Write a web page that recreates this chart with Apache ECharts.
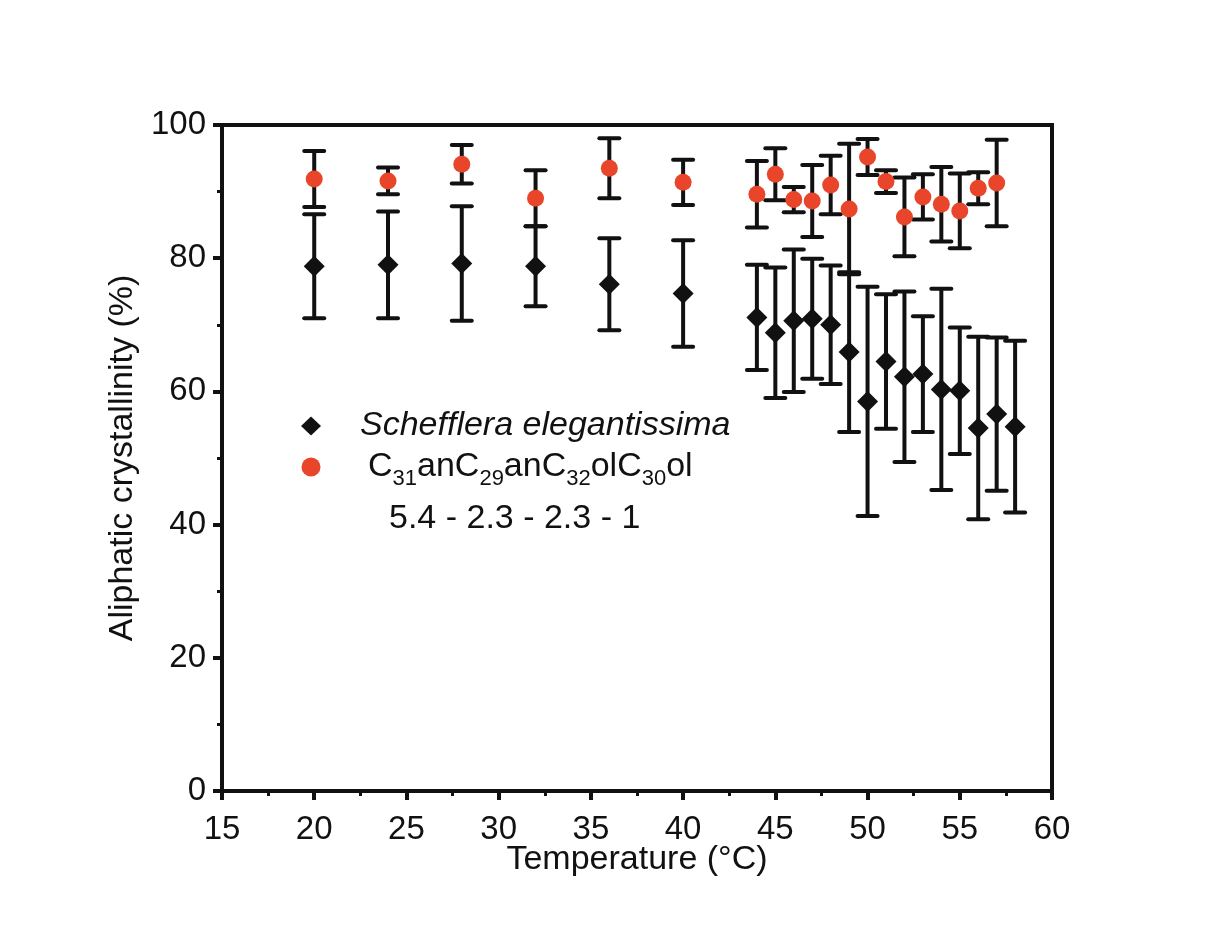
<!DOCTYPE html>
<html><head><meta charset="utf-8">
<script src="https://cdn.jsdelivr.net/npm/echarts@6/dist/echarts.min.js"></script>
<style>html,body{margin:0;padding:0;background:#fff}#c{width:1209px;height:938px}</style>
</head><body><div id="c"></div>
<script>
// ---- data ----
const blackTemps = [20,24,28,32,36,40,44,45,46,47,48,49,50,51,52,53,54,55,56,57,58];
const blackMean  = [78.8,79.0,79.2,78.8,76.1,74.7,71.1,68.8,70.6,70.9,70.0,65.9,58.5,64.5,62.2,62.6,60.3,60.1,54.5,56.6,54.7];
const blackErr   = [7.8,8.0,8.6,6.0,6.9,8.0,7.9,9.8,10.7,9.0,8.9,12.0,17.2,10.1,12.8,8.7,15.1,9.5,13.7,11.5,12.9];
const redTemps = [20,24,28,32,36,40,44,45,46,47,48,49,50,51,52,53,54,55,56,57];
const redMean  = [91.9,91.6,94.1,89.0,93.5,91.4,89.6,92.6,88.8,88.6,91.0,87.4,95.2,91.5,86.2,89.2,88.1,87.1,90.5,91.3];
const redErr   = [4.2,2.0,2.9,4.2,4.5,3.4,5.0,3.9,1.9,5.4,4.4,9.8,2.7,1.7,5.9,3.4,5.6,5.6,2.4,6.5];
const xTicks = [15,20,25,30,35,40,45,50,55,60];
const yTicks = [0,20,40,60,80,100];
const nameBlack = 'Schefflera elegantissima';
const nameRed = 'C31anC29anC32olC30ol';
const ratioLabel = '5.4 - 2.3 - 2.3 - 1';

const FONT = 'Liberation Sans, Arial, sans-serif';
const INK = '#111111';
const RED = '#e8452b';

const pts = (xs, ys) => xs.map((x, i) => [x, ys[i]]);
const errs = (xs, ys, es) => xs.map((x, i) => [x, ys[i] - es[i], ys[i] + es[i]]);

function errRender(params, api) {
  const x = api.value(0), lo = api.value(1), hi = api.value(2);
  const t = api.coord([x, hi]), b = api.coord([x, lo]);
  const hw = 10;
  const st = { stroke: INK, lineWidth: 4, lineCap: 'round' };
  return { type: 'group', children: [
    { type: 'line', shape: { x1: t[0], y1: t[1], x2: b[0], y2: b[1] }, style: { stroke: INK, lineWidth: 4 } },
    { type: 'line', shape: { x1: t[0] - hw, y1: t[1], x2: t[0] + hw, y2: t[1] }, style: st },
    { type: 'line', shape: { x1: b[0] - hw, y1: b[1], x2: b[0] + hw, y2: b[1] }, style: st }
  ]};
}

const chart = echarts.init(document.getElementById('c'), null, { renderer: 'canvas' });
const option = {
  backgroundColor: '#ffffff',
  animation: false,
  textStyle: { fontFamily: FONT },
  grid: { left: 222, right: 157, top: 125, bottom: 147, show: true, borderColor: INK, borderWidth: 4, backgroundColor: 'transparent' },
  xAxis: {
    type: 'value', min: xTicks[0], max: xTicks[xTicks.length - 1], interval: 5,
    name: 'Temperature (°C)', nameLocation: 'middle', nameGap: 52, nameMoveOverlap: false,
    nameTextStyle: { fontSize: 34, color: INK, fontFamily: FONT },
    axisLine: { show: true, lineStyle: { color: INK, width: 4 } },
    axisTick: { show: true, inside: false, length: 9, lineStyle: { color: INK, width: 4 } },
    minorTick: { show: true, splitNumber: 2, length: 5, lineStyle: { color: INK, width: 3 } },
    axisLabel: { fontSize: 33, color: INK, margin: 22, fontFamily: FONT },
    splitLine: { show: false }
  },
  yAxis: {
    type: 'value', min: yTicks[0], max: yTicks[yTicks.length - 1], interval: 20,
    name: 'Aliphatic crystallinity (%)', nameLocation: 'middle', nameGap: 82, nameMoveOverlap: false,
    nameTextStyle: { fontSize: 34, color: INK, fontFamily: FONT },
    axisLine: { show: true, lineStyle: { color: INK, width: 4 } },
    axisTick: { show: true, inside: false, length: 9, lineStyle: { color: INK, width: 4 } },
    minorTick: { show: true, splitNumber: 2, length: 5, lineStyle: { color: INK, width: 3 } },
    axisLabel: { fontSize: 33, color: INK, margin: 16, fontFamily: FONT },
    splitLine: { show: false }
  },
  legend: {
    orient: 'vertical', left: 296, top: 404, itemGap: 1,
    itemWidth: 20, itemHeight: 19,
    data: [{ name: nameBlack, icon: 'diamond', itemStyle: { color: INK, opacity: 1 } },
           { name: nameRed, icon: 'circle', itemStyle: { color: RED, opacity: 1 } }],
    formatter: function (n) {
      if (n === nameBlack) return '{i|' + n + '}';
      return '{n0|C}{s|31}{n|anC}{s|29}{n|anC}{s|32}{n|olC}{s|30}{n|ol}';
    },
    textStyle: {
      color: INK, fontFamily: FONT,
      rich: {
        i: { fontSize: 34, fontStyle: 'italic', lineHeight: 40, padding: [0, 0, 0, 34], color: INK, fontFamily: FONT },
        n0: { fontSize: 34, lineHeight: 40, padding: [0, 0, 0, 42], color: INK, fontFamily: FONT },
        n: { fontSize: 34, lineHeight: 40, color: INK, fontFamily: FONT },
        s: { fontSize: 22, lineHeight: 22, padding: [24, 0, 0, 0], color: INK, fontFamily: FONT }
      }
    }
  },
  graphic: [{
    type: 'text', left: 389, top: 502,
    style: { text: ratioLabel, font: '34px ' + FONT, fill: INK }
  }],
  series: [
    { type: 'custom', name: 'errBlack', renderItem: errRender, data: errs(blackTemps, blackMean, blackErr), z: 2, silent: true },
    { type: 'scatter', name: nameBlack, data: pts(blackTemps, blackMean), symbol: 'diamond', symbolSize: [21, 21], itemStyle: { color: INK, opacity: 1 }, z: 3 },
    { type: 'custom', name: 'errRed', renderItem: errRender, data: errs(redTemps, redMean, redErr), z: 4, silent: true },
    { type: 'scatter', name: nameRed, data: pts(redTemps, redMean), symbol: 'circle', symbolSize: 17, itemStyle: { color: RED, opacity: 1 }, z: 5 }
  ]
};
chart.setOption(option);
</script></body></html>
